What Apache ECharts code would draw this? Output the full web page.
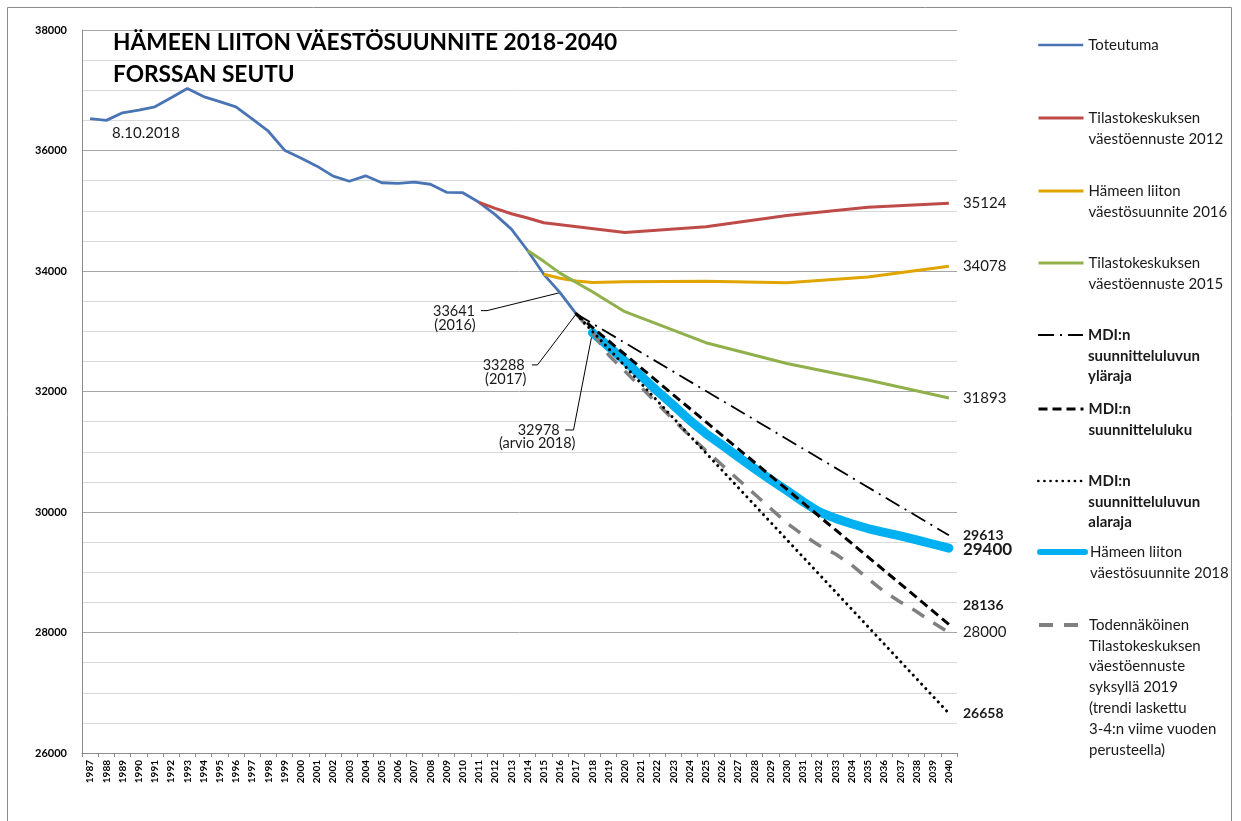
<!DOCTYPE html>
<html><head><meta charset="utf-8">
<script src="https://cdn.jsdelivr.net/npm/echarts@6/dist/echarts.min.js"></script>
<style>html,body{margin:0;padding:0;background:#fff}#main{width:1241px;height:821px}</style>
</head><body><div id="main"></div>
<script>
// ---------- DATA ----------
const categories = ['1987','1988','1989','1990','1991','1992','1993','1994','1995','1996','1997','1998','1999','2000','2001','2002','2003','2004','2005','2006','2007','2008','2009','2010','2011','2012','2013','2014','2015','2016','2017','2018','2019','2020','2021','2022','2023','2024','2025','2026','2027','2028','2029','2030','2031','2032','2033','2034','2035','2036','2037','2038','2039','2040'];

// Toteutuma 1987-2017
const toteutumaYears = categories.slice(0, 31);
const toteutuma = [36530,36500,36625,36670,36725,36875,37030,36895,36810,36725,36525,36320,36005,35875,35740,35575,35490,35580,35465,35455,35475,35440,35305,35300,35140,34935,34695,34340,33945,33641,33288];

const tk2012Years = ['2011','2012','2013','2014','2015','2020','2025','2030','2035','2040'];
const tk2012 = [35140,35040,34950,34880,34800,34640,34735,34920,35060,35124];

const hl2016Years = ['2015','2016','2017','2018','2020','2025','2030','2035','2040'];
const hl2016 = [33945,33880,33835,33810,33820,33830,33806,33900,34078];

const tk2015Years = ['2014','2015','2016','2017','2018','2020','2025','2030','2035','2040'];
const tk2015 = [34340,34160,33965,33810,33655,33325,32810,32465,32190,31893];

const mdiYears = ['2017','2040'];
const mdiYlaraja = [33288,29613];
const mdiLuku = [33288,28136];
const mdiAlaraja = [33288,26658];

// Hämeen liiton väestösuunnite 2018, 2018-2040
const hl2018Years = categories.slice(31);
const hl2018 = [32978,32747,32506,32257,32008,31768,31522,31302,31112,30913,30722,30536,30357,30170,30000,29894,29805,29726,29663,29602,29539,29469,29400];

// Todennäköinen Tilastokeskuksen väestöennuste 2019, 2017-2040
const todYears = categories.slice(30);
const tod = [33288,32978,32606,32340,32070,31800,31530,31265,31021,30780,30539,30299,30058,29817,29618,29444,29303,29120,28896,28680,28506,28349,28166,28000];

const yTicks = [26000,28000,30000,32000,34000,36000,38000];

// ---------- CHART ----------
const FONT = 'Lato, "Open Sans", sans-serif';
const TXT = '#1a1a1a';
const zip = (ys, vs) => ys.map((y, i) => [y, vs[i]]);

const names = {
  tot: 'Toteutuma',
  t12: 'Tilastokeskuksen väestöennuste 2012',
  h16: 'Hämeen liiton väestösuunnite 2016',
  t15: 'Tilastokeskuksen väestöennuste 2015',
  mya: 'MDI:n suunnitteluluvun yläraja',
  mlu: 'MDI:n suunnitteluluku',
  mal: 'MDI:n suunnitteluluvun alaraja',
  h18: 'Hämeen liiton väestösuunnite 2018',
  tod: 'Todennäköinen Tilastokeskuksen väestöennuste syksyllä 2019 (trendi laskettu 3-4:n viime vuoden perusteella)'
};
const legendLines = {};
legendLines[names.tot] = ['Toteutuma'];
legendLines[names.t12] = ['Tilastokeskuksen', 'väestöennuste 2012'];
legendLines[names.h16] = ['Hämeen liiton', 'väestösuunnite 2016'];
legendLines[names.t15] = ['Tilastokeskuksen', 'väestöennuste 2015'];
legendLines[names.mya] = ['MDI:n', 'suunnitteluluvun', 'yläraja'];
legendLines[names.mlu] = ['MDI:n', 'suunnitteluluku'];
legendLines[names.mal] = ['MDI:n', 'suunnitteluluvun', 'alaraja'];
legendLines[names.h18] = ['Hämeen liiton', 'väestösuunnite 2018'];
legendLines[names.tod] = ['Todennäköinen', 'Tilastokeskuksen', 'väestöennuste', 'syksyllä 2019', '(trendi laskettu', '3-4:n viime vuoden', 'perusteella)'];
// pad with empty lines above so that the first line sits level with the legend icon
const legendFmt = n => { const L = legendLines[n]; return new Array(L.length).join('\n') + L.join('\n'); };

function endLbl(size, bold, dy) {
  return {show: true, formatter: p => String(p.value[1]), distance: 14, offset: [0, dy || 0],
    fontSize: size, fontWeight: bold ? 'bold' : 'normal', color: TXT, fontFamily: FONT};
}
function line(name, data, color, width, type, extra) {
  return Object.assign({
    name, type: 'line', data, symbol: 'none', silent: true, connectNulls: true,
    lineStyle: {color, width, type: type || 'solid'}, itemStyle: {color},
    emphasis: {disabled: true}
  }, extra || {});
}

const series = [
  line(names.tot, zip(toteutumaYears, toteutuma), '#4A75B5', 2.8),
  line(names.t12, zip(tk2012Years, tk2012), '#BE4B48', 3, 'solid', {endLabel: endLbl(15)}),
  line(names.h16, zip(hl2016Years, hl2016), '#E0A500', 3, 'solid', {endLabel: endLbl(15)}),
  line(names.t15, zip(tk2015Years, tk2015), '#8FB04B', 3, 'solid', {endLabel: endLbl(15)}),
  line(names.h18, zip(hl2018Years, hl2018), '#00B0F0', 9, 'solid', {endLabel: endLbl(17, true, 1), lineStyle: {color: '#00B0F0', width: 9, cap: 'round', join: 'round'}}),
  line(names.tod, zip(todYears, tod), '#808080', 3.5, [14, 11], {endLabel: endLbl(15)}),
  line(names.mal, zip(mdiYears, mdiAlaraja), '#000', 3, [0.1, 6], {endLabel: endLbl(14, true), lineStyle: {color: '#000', width: 3, type: [0.1, 6], cap: 'round'}}),
  line(names.mlu, zip(mdiYears, mdiLuku), '#000', 3, [9, 5], {endLabel: endLbl(14, true, -19)}),
  line(names.mya, zip(mdiYears, mdiYlaraja), '#000', 1.8, [16, 6, 2, 6], {endLabel: endLbl(14, true)})
];

const LH = 20.8;
const legendDefs = [
  [names.tot, 45, false, 2.5],
  [names.t12, 118, false, 3],
  [names.h16, 191, false, 3],
  [names.t15, 263, false, 3],
  [names.mya, 335, true, 2],
  [names.mlu, 409, true, 3],
  [names.mal, 481, true, 2.6],
  [names.h18, 552, false, 6],
  [names.tod, 625, false, 4]
];
const legends = legendDefs.map(d => {
  const n = legendLines[d[0]].length;
  return {
    data: [d[0]], orient: 'vertical', left: 1037, top: d[1] - (2 * n - 1) * LH / 2,
    padding: 0, itemGap: 0, itemWidth: 45, itemHeight: 14, selectedMode: false,
    formatter: legendFmt,
    itemStyle: {opacity: 0},
    lineStyle: {width: d[3]},
    textStyle: {fontFamily: FONT, fontSize: 15, color: TXT, lineHeight: LH, fontWeight: d[2] ? 'bold' : 'normal'}
  };
});

const option = {
  animation: false,
  backgroundColor: '#fff',
  title: {
    text: 'HÄMEEN LIITON VÄESTÖSUUNNITE 2018-2040\nFORSSAN SEUTU',
    left: 113, top: 27, padding: 0,
    textStyle: {fontFamily: FONT, fontSize: 22.7, fontWeight: 'bold', color: '#000', lineHeight: 31.6}
  },
  legend: legends,
  grid: {left: 82, right: 284, top: 30, bottom: 68, containLabel: false},
  xAxis: {
    type: 'category', data: categories, boundaryGap: true,
    axisLine: {lineStyle: {color: '#8c8c8c', width: 1}},
    axisTick: {show: true, length: 4, lineStyle: {color: '#8c8c8c'}},
    axisLabel: {interval: 0, rotate: 90, fontSize: 10, fontWeight: 'bold', color: '#000', margin: 7, fontFamily: FONT},
    splitLine: {show: false}
  },
  yAxis: {
    type: 'value', min: yTicks[0], max: yTicks[yTicks.length - 1], interval: 2000,
    axisLine: {show: true, lineStyle: {color: '#8c8c8c'}},
    axisTick: {show: false},
    axisLabel: {fontSize: 11, fontWeight: 'bold', color: '#000', margin: 15, fontFamily: FONT, formatter: v => String(v)},
    splitLine: {show: true, lineStyle: {color: '#a6a6a6', width: 1}},
    minorTick: {show: false, splitNumber: 4},
    minorSplitLine: {show: true, lineStyle: {color: '#d9d9d9', width: 1}}
  },
  series
};

const chart = echarts.init(document.getElementById('main'), null, {renderer: 'canvas'});
chart.setOption(option);

// ---------- annotations (anchored to data points through the axes) ----------
const P = (y, v) => chart.convertToPixel({xAxisIndex: 0, yAxisIndex: 0}, [y, v]);
const p16 = P('2016', toteutuma[29]);
const p17 = P('2017', toteutuma[30]);
const p18 = P('2018', hl2018[0]);
const tstyle = (x, y, t) => ({type: 'text', silent: true, style: {x, y, text: t, fill: TXT, font: '14.5px ' + FONT, align: 'center', verticalAlign: 'middle'}});
const leader = pts => ({type: 'polyline', silent: true, shape: {points: pts}, style: {stroke: '#000', lineWidth: 1, fill: null}});
const graphic = [
  {type: 'rect', silent: true, shape: {x: 7.5, y: 7.5, width: 1224, height: 840}, style: {fill: null, stroke: '#8c8c8c', lineWidth: 1}},
  {type: 'text', silent: true, style: {x: 112, y: 133, text: '8.10.2018', fill: TXT, font: '15px ' + FONT, align: 'left', verticalAlign: 'middle'}},
  tstyle(p16[0] - 106, p16[1] + 19, '33641'),
  tstyle(p16[0] - 105, p16[1] + 33, '(2016)'),
  leader([[p16[0] - 79, p16[1] + 18], [p16[0] - 73, p16[1] + 18], p16]),
  tstyle(p17[0] - 72.5, p17[1] + 51, '33288'),
  tstyle(p17[0] - 70.5, p17[1] + 65.5, '(2017)'),
  leader([[p17[0] - 44.3, p17[1] + 51], [p17[0] - 38.7, p17[1] + 51], p17]),
  tstyle(p18[0] - 53.7, p18[1] + 97.4, '32978'),
  tstyle(p18[0] - 55.2, p18[1] + 111, '(arvio 2018)'),
  leader([[p18[0] - 27.2, p18[1] + 97.4], [p18[0] - 18.9, p18[1] + 97.4], p18])
];
chart.setOption({graphic});
</script>
</body></html>
